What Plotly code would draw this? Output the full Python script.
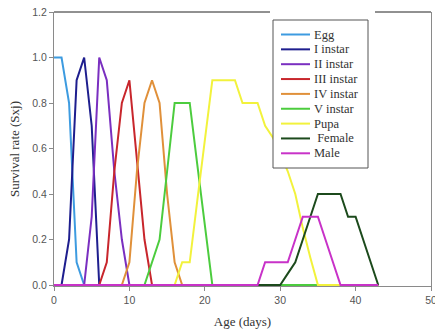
import plotly.graph_objects as go

days = list(range(0, 44))

egg      = [1.0, 1.0, 0.8, 0.1, 0.0] + [0.0] * 39
instar1  = [0.0, 0.0, 0.2, 0.9, 1.0, 0.7, 0.0] + [0.0] * 37
instar2  = [0.0, 0.0, 0.0, 0.0, 0.0, 0.3, 1.0, 0.9, 0.5, 0.2, 0.0] + [0.0] * 33
instar3  = [0.0] * 7 + [0.1, 0.5, 0.8, 0.9, 0.55, 0.2, 0.0] + [0.0] * 30
instar4  = [0.0] * 10 + [0.1, 0.5, 0.8, 0.9, 0.8, 0.4, 0.1, 0.0] + [0.0] * 26
instar5  = [0.0] * 13 + [0.1, 0.2, 0.5, 0.8, 0.8, 0.8, 0.53, 0.27, 0.0] + [0.0] * 22
pupa     = [0.0] * 17 + [0.1, 0.1, 0.37, 0.63, 0.9, 0.9, 0.9, 0.9, 0.8, 0.8, 0.8,
                         0.7, 0.65, 0.58, 0.5, 0.4, 0.25, 0.12, 0.0] + [0.0] * 8
female   = [0.0] * 31 + [0.05, 0.1, 0.2, 0.3, 0.4, 0.4, 0.4, 0.4, 0.3, 0.3, 0.2, 0.1, 0.0]
male     = [0.0] * 28 + [0.1, 0.1, 0.1, 0.1, 0.2, 0.3, 0.3, 0.3, 0.2, 0.1, 0.0] + [0.0] * 5

names  = ["Egg", "I instar", "II instar", "III instar", "IV instar",
          "V instar", "Pupa", " Female", "Male"]
series = [egg, instar1, instar2, instar3, instar4, instar5, pupa, female, male]
colors = ["#3d9be0", "#1e1e8e", "#7a2fc0", "#c8262c", "#e0903a",
          "#4ccc3e", "#f2f23c", "#1c4a1c", "#c832c8"]

x_ticks = [0, 10, 20, 30, 40, 50]
y_ticks = [0.0, 0.2, 0.4, 0.6, 0.8, 1.0, 1.2]

fig = go.Figure()
for n, s, c in zip(names, series, colors):
    fig.add_trace(go.Scatter(x=days, y=s, mode="lines", name=n.strip(),
                             line=dict(color=c, width=2), showlegend=False))

# plot area geometry (px) used to place decorations in paper coords
L, R, T, B = 54, 431, 12, 286
W, H = R - L, B - T
def px(xp): return (xp - L) / W
def py(yp): return (B - yp) / H

shapes = []
# black top border with gap behind legend
shapes.append(dict(type="line", xref="paper", yref="paper", x0=0, x1=px(270), y0=1, y1=1,
                   line=dict(color="#222222", width=1)))
shapes.append(dict(type="line", xref="paper", yref="paper", x0=px(375), x1=1, y0=1, y1=1,
                   line=dict(color="#222222", width=1)))
# legend box
shapes.append(dict(type="rect", xref="paper", yref="paper", x0=px(273), x1=px(368),
                   y0=py(168), y1=py(20), fillcolor="white",
                   line=dict(color="#555555", width=1), layer="above"))
annotations = []
for i, (n, c) in enumerate(zip(names, colors)):
    yc = py(34.5 + i * 14.85)
    shapes.append(dict(type="line", xref="paper", yref="paper", x0=px(281), x1=px(310),
                       y0=yc, y1=yc, line=dict(color=c, width=2), layer="above"))
    annotations.append(dict(xref="paper", yref="paper", x=px(312), y=yc,
                            text=n.replace(" ", "\u00a0") if n.startswith(" ") else n,
                            showarrow=False, xanchor="left", yanchor="middle",
                            font=dict(family="Liberation Serif", size=12.5, color="#333333")))

fig.update_layout(
    width=435, height=334,
    margin=dict(l=L, r=435 - R, t=T, b=334 - B),
    paper_bgcolor="white", plot_bgcolor="white",
    shapes=shapes, annotations=annotations,
    showlegend=False,
)
fig.update_xaxes(range=[0, 50], tickvals=x_ticks, showgrid=False, zeroline=False,
                 showline=True, linecolor="#8a8a8a", linewidth=1, mirror=False,
                 ticks="outside", ticklen=4, tickcolor="#8a8a8a", layer="below traces",
                 ticklabeloverflow="allow", automargin=False,
                 tickfont=dict(family="Liberation Sans", size=10.5, color="#555555"),
                 title=dict(text="Age (days)", standoff=12,
                            font=dict(family="Liberation Serif", size=13, color="#333333")))
fig.update_yaxes(range=[-0.0044, 1.2], tickvals=y_ticks, tickformat=".1f",
                 showgrid=False, zeroline=False, automargin=False,
                 showline=True, linecolor="#8a8a8a", linewidth=1, mirror=True,
                 ticks="outside", ticklen=4, tickcolor="#8a8a8a", layer="below traces",
                 tickfont=dict(family="Liberation Sans", size=10.5, color="#555555"),
                 title=dict(text="Survival rate (Sxj)", standoff=9,
                            font=dict(family="Liberation Serif", size=13, color="#333333")))

fig.write_html("out.html")
